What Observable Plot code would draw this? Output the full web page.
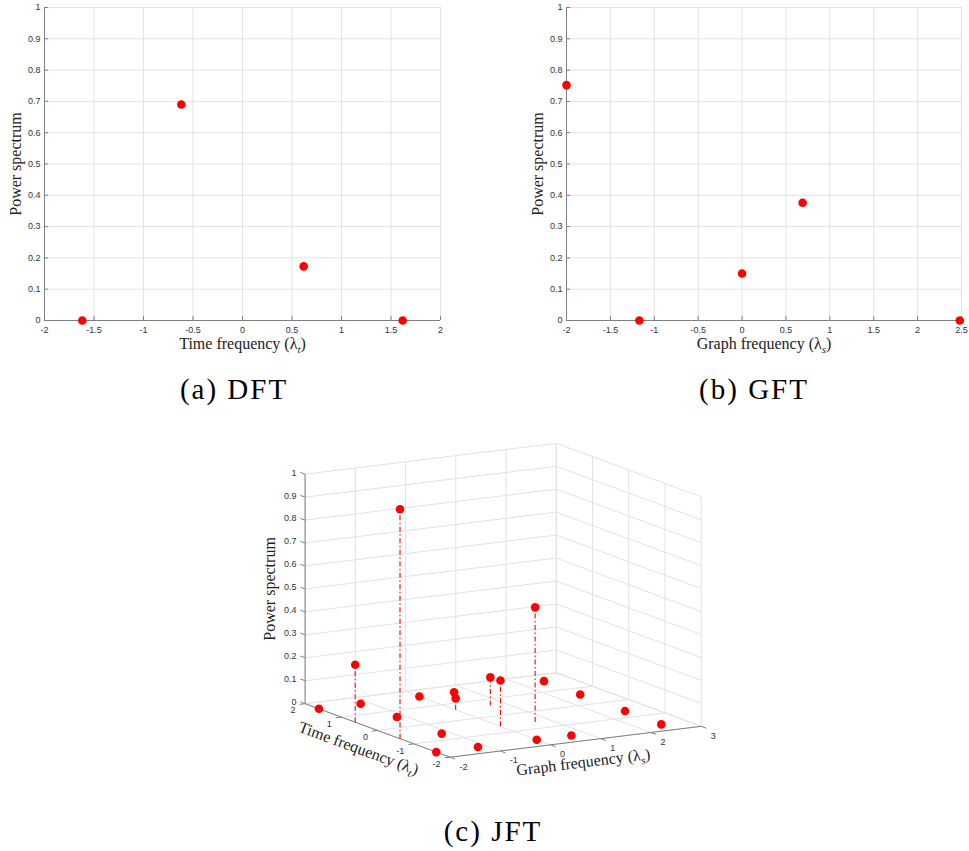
<!DOCTYPE html>
<html><head><meta charset="utf-8">
<script src="https://cdn.jsdelivr.net/npm/d3@7"></script>
<script src="https://cdn.jsdelivr.net/npm/@observablehq/plot@0.6"></script>
<style>
body{margin:0;background:#fff;}
#root{position:relative;width:969px;height:851px;background:#fff;overflow:hidden;}
.panel{position:absolute;}
.cap{position:absolute;font-family:"Liberation Serif","Times New Roman",serif;font-size:29px;letter-spacing:2px;line-height:29px;white-space:nowrap;transform:translateX(-50%);color:#000;}
</style></head><body><div id="root"></div>
<script>
// ---------------- data ----------------
const dftFreq  = [-1.618, -0.618, 0.618, 1.618];
const dftPower = [0, 0.69, 0.173, 0];
const gftFreq  = [-2, -1.17, 0, 0.69, 2.48];
const gftPower = [0.752, 0, 0.15, 0.376, 0];
const jftGraphFreq = [-2, -2, -2, -2, -1.17, -1.17, -1.17, -1.17, 0, 0, 0, 0, 0.69, 0.69, 0.69, 0.69, 2.48, 2.48, 2.48, 2.48];
const jftTimeFreq  = [-1.618, -0.618, 0.618, 1.618, -1.618, -0.618, 0.618, 1.618, -1.618, -0.618, 0.618, 1.618, -1.618, -0.618, 0.618, 1.618, -1.618, -0.618, 0.618, 1.618];
const jftPower     = [0, 1.0, 0.25, 0, 0, 0, 0, 0, 0, 0.2, 0.05, 0, 0, 0.5, 0.123, 0, 0, 0, 0, 0];
const dftTicks = [-2, -1.5, -1, -0.5, 0, 0.5, 1, 1.5, 2];
const gftTicks = [-2, -1.5, -1, -0.5, 0, 0.5, 1, 1.5, 2, 2.5];
const powerTicks = [0, 0.1, 0.2, 0.3, 0.4, 0.5, 0.6, 0.7, 0.8, 0.9, 1];
const jftGraphTicks = [-2, -1, 0, 1, 2, 3];
const jftTimeTicks = [-2, -1, 0, 1, 2];
const captions = ["(a) DFT", "(b) GFT", "(c) JFT"];
const powerTitle = "Power spectrum";
const timeTitle = "Time frequency (λt)";
const graphTitle = "Graph frequency (λs)";

// ---------------- styles ----------------
const SANS = "'Liberation Sans', Arial, Helvetica, sans-serif";
const SERIF = "'Liberation Serif', 'Times New Roman', serif";
const GRID = "#e2e2e2", AXIS = "#808080", TXT = "#333333", RED = "#ff0000";

const root = document.getElementById("root");
function place(node, left, top) {
  node.classList.add("panel");
  node.style.left = left + "px"; node.style.top = top + "px";
  root.appendChild(node);
}
function subscripts(svg) {
  d3.select(svg).selectAll("text").each(function () {
    const s = this.textContent;
    const m = s.match(/^(.*λ)([ts])(\).*)$/);
    if (!m) return;
    const el = d3.select(this);
    el.text(null);
    el.append("tspan").text(m[1]);
    el.append("tspan").attr("dy", 4).attr("font-size", "11px").attr("font-style", "italic").text(m[2]);
    el.append("tspan").attr("dy", -4).text(m[3]);
  });
}

// ---------------- 2D panels ----------------
function panel2D(freq, power, ticks, xDomain, width, marginLeft, marginRight, xTitle) {
  const H = 360, mt = 7, mb = 40;
  const pw = width - marginLeft - marginRight, ph = H - mt - mb;
  const data = freq.map((f, i) => ({f, p: power[i]}));
  const svg = Plot.plot({
    width, height: H, marginLeft, marginRight, marginTop: mt, marginBottom: mb,
    style: {fontFamily: SANS, fontSize: "9px", color: TXT, background: "transparent", overflow: "visible"},
    x: {domain: xDomain},
    y: {domain: [0, 1]},
    marks: [
      Plot.gridX(ticks, {stroke: GRID, strokeOpacity: 1}),
      Plot.gridY(powerTicks, {stroke: GRID, strokeOpacity: 1}),
      Plot.ruleY([0], {stroke: AXIS}),
      Plot.ruleX([xDomain[0]], {stroke: AXIS}),
      Plot.tickX(ticks, {x: d => d, insetTop: ph - 4, stroke: AXIS}),
      Plot.tickY(powerTicks, {y: d => d, insetRight: pw - 4, stroke: AXIS}),
      Plot.axisX(ticks, {tickSize: 0, tickPadding: 6, tickFormat: d => String(d), label: null, fill: TXT}),
      Plot.axisY(powerTicks, {tickSize: 0, tickPadding: 4, tickFormat: d => String(d), label: null, fill: TXT}),
      Plot.dot(data, {x: "f", y: "p", r: 4.3, fill: RED}),
      Plot.text([xTitle], {text: d => d, frameAnchor: "bottom", textAnchor: "middle", lineAnchor: "middle", dy: 23.5, fontFamily: SERIF, fontSize: 16, fill: "#222"}),
      Plot.text([powerTitle], {text: d => d, frameAnchor: "left", textAnchor: "middle", lineAnchor: "middle", dx: -29, rotate: -90, fontFamily: SERIF, fontSize: 16, fill: "#222"})
    ]
  });
  subscripts(svg);
  return svg;
}

place(panel2D(dftFreq, dftPower, dftTicks, [-2, 2], 480, 44, 40, timeTitle), 0, 0);
place(panel2D(gftFreq, gftPower, gftTicks, [-2, 2.5], 489, 86, 8, graphTitle), 480, 0);

// ---------------- 3D panel ----------------
const AZ = -30 * Math.PI / 180, EL = 12.3 * Math.PI / 180;
const BOX = [1, 1, 0.81];
const sDom = [-2, 3], tDom = [-2, 2], zDom = [0, 1];
function project(s, t, z) {
  const sn = (s - sDom[0]) / (sDom[1] - sDom[0]) * BOX[0];
  const tn = (t - tDom[0]) / (tDom[1] - tDom[0]) * BOX[1];
  const zn = (z - zDom[0]) / (zDom[1] - zDom[0]) * BOX[2];
  return {
    u: sn * Math.cos(AZ) + tn * Math.sin(AZ),
    v: -sn * Math.sin(EL) * Math.sin(AZ) + tn * Math.sin(EL) * Math.cos(AZ) + zn * Math.cos(EL),
    near: Math.cos(EL) * Math.sin(AZ) * sn - Math.cos(EL) * Math.cos(AZ) * tn + Math.sin(EL) * zn
  };
}
function seg(a, b) {
  const p = project(...a), q = project(...b);
  return {x1: p.u, y1: p.v, x2: q.u, y2: q.v};
}
const [s0, s1] = sDom, [t0, t1] = tDom, [z0, z1] = zDom;
const gridSegs = [];
for (const s of jftGraphTicks) { gridSegs.push(seg([s, t1, z0], [s, t1, z1])); gridSegs.push(seg([s, t0, z0], [s, t1, z0])); }
for (const t of jftTimeTicks) { gridSegs.push(seg([s1, t, z0], [s1, t, z1])); gridSegs.push(seg([s0, t, z0], [s1, t, z0])); }
for (const z of powerTicks) { gridSegs.push(seg([s0, t1, z], [s1, t1, z])); gridSegs.push(seg([s1, t0, z], [s1, t1, z])); }
const axisSegs = [seg([s0, t1, z0], [s0, t1, z1]), seg([s0, t0, z0], [s0, t1, z0]), seg([s0, t0, z0], [s1, t0, z0])];
const tickSegs = [
  ...jftGraphTicks.map(s => seg([s, t0, z0], [s, t0 - 0.14, z0])),
  ...jftTimeTicks.map(t => seg([s0, t, z0], [s0 - 0.11, t, z0])),
  ...powerTicks.map(z => seg([s0, t1, z], [s0, t1 + 0.13, z]))
];
const jft = jftGraphFreq.map((s, i) => {
  const t = jftTimeFreq[i], p = jftPower[i];
  const top = project(s, t, p), base = project(s, t, z0);
  return {s, t, p, u: top.u, v: top.v, u0: base.u, v0: base.v, near: top.near};
}).sort((a, b) => a.near - b.near);
const stems = jft.filter(d => d.p > 0);
const sLabels = jftGraphTicks.map(s => ({...project(s, t0, z0), label: String(s)}));
const tLabels = jftTimeTicks.map(t => ({...project(s0, t, z0), label: String(t)}));
const zLabels = powerTicks.map(z => ({...project(s0, t1, z), label: String(z)}));
const pA = project(s0, t0, 0), pB = project(s1, t0, 0), pC = project(s0, t1, 0);
// screen angles (clockwise positive, y down)
const tAng = Math.atan2(pC.v - pA.v, pA.u - pC.u) * 180 / Math.PI;
const sAng = Math.atan2(-(pB.v - pA.v), pB.u - pA.u) * 180 / Math.PI;

const W3 = 500, H3 = 370, L3 = 240, T3 = 420, K = 290;
const ox = 449.6 - L3, oy = 756.7 - T3;
const svg3 = Plot.plot({
  width: W3, height: H3,
  style: {fontFamily: SANS, fontSize: "9px", color: TXT, background: "transparent", overflow: "visible"},
  x: {domain: [0, 1], range: [ox, ox + K], axis: null},
  y: {domain: [0, 1], range: [oy, oy - K], axis: null},
  marks: [
    Plot.link(gridSegs, {x1: "x1", y1: "y1", x2: "x2", y2: "y2", stroke: GRID, strokeWidth: 1}),
    Plot.link(axisSegs, {x1: "x1", y1: "y1", x2: "x2", y2: "y2", stroke: AXIS, strokeWidth: 1}),
    Plot.link(tickSegs, {x1: "x1", y1: "y1", x2: "x2", y2: "y2", stroke: AXIS, strokeWidth: 1}),
    Plot.link(stems, {x1: "u0", y1: "v0", x2: "u", y2: "v", stroke: RED, strokeWidth: 1.1, strokeDasharray: "5,2.5,1.5,2.5"}),
    Plot.dot(jft, {x: "u", y: "v", r: 4.3, fill: RED}),
    Plot.text(sLabels, {x: "u", y: "v", text: "label", textAnchor: "start", dx: 9.5, dy: 9.5, fill: TXT}),
    Plot.text(tLabels, {x: "u", y: "v", text: "label", textAnchor: "end", dx: -9.5, dy: 6.8, fill: TXT}),
    Plot.text(zLabels, {x: "u", y: "v", text: "label", textAnchor: "end", dx: -8.5, dy: -1.5, fill: TXT}),
    Plot.text([{...project(s0, t1, 0.5), label: powerTitle}], {x: "u", y: "v", text: "label", dx: -35, dy: 0, rotate: -90, fontFamily: SERIF, fontSize: 16, fill: "#222"}),
    Plot.text([{...project(s0, 0, 0), label: timeTitle}], {x: "u", y: "v", text: "label", dx: -19, dy: 18, rotate: tAng, fontFamily: SERIF, fontSize: 16, fill: "#222"}),
    Plot.text([{...project(0.5, t0, 0), label: graphTitle}], {x: "u", y: "v", text: "label", dx: 7.6, dy: 20.5, rotate: sAng, fontFamily: SERIF, fontSize: 16, fill: "#222"})
  ]
});
subscripts(svg3);
place(svg3, L3, T3);

// ---------------- captions ----------------
const capPos = [[234, 374.5], [754, 374.5], [493, 816.5]];
captions.forEach((c, i) => {
  const d = document.createElement("div");
  d.className = "cap"; d.textContent = c;
  d.style.left = capPos[i][0] + "px"; d.style.top = capPos[i][1] + "px";
  root.appendChild(d);
});
</script></body></html>
